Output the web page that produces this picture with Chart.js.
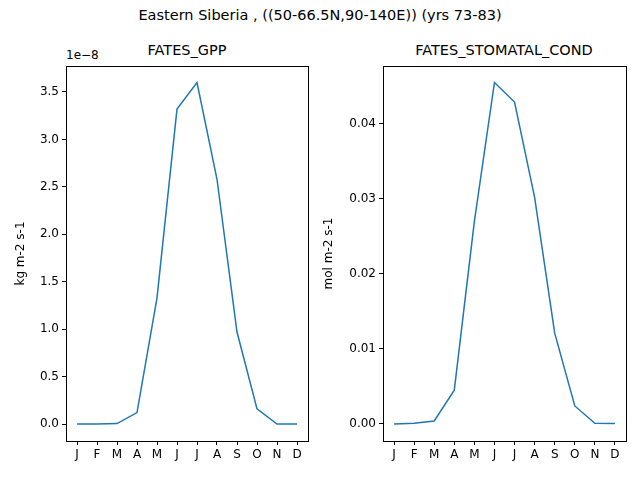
<!DOCTYPE html>
<html><head>
<script src="https://cdn.jsdelivr.net/npm/chart.js@4"></script>
<style>
body{margin:0;width:640px;height:480px;position:relative;background:#fff;font-family:"DejaVu Sans",sans-serif;overflow:hidden}
canvas{position:absolute;top:0}
.t{position:absolute;font-size:14.5px;color:#000;white-space:nowrap;transform:translateX(-50%)}
</style></head>
<body>
<div class="t" style="left:320px;top:7px">Eastern Siberia , ((50-66.5N,90-140E)) (yrs 73-83)</div>
<div class="t" style="left:187px;top:42px">FATES_GPP</div>
<div class="t" style="left:504px;top:42px">FATES_STOMATAL_COND</div>
<div style="position:absolute;left:66px;top:48px;font-size:12px">1e−8</div>
<div style="position:absolute;left:0;top:0;width:320px;height:480px"><canvas id="gpp" width="320" height="480"></canvas></div>
<div style="position:absolute;left:320px;top:0;width:320px;height:480px"><canvas id="cond" width="320" height="480"></canvas></div>
<script>
const months = ['J','F','M','A','M','J','J','A','S','O','N','D'];
const gppValues = [0, 0, 0.005, 0.12, 1.33, 3.32, 3.60, 2.58, 0.97, 0.16, 0.0, 0.0];
const condValues = [0, 0.0001, 0.0004, 0.0045, 0.027, 0.0455, 0.0429, 0.0302, 0.0121, 0.0024, 0.0001, 0.00005];

// full box round the plot area, like matplotlib spines
const frame = {
    id: 'frame',
    afterDraw(chart) {
        const { ctx, chartArea: a } = chart;
        ctx.save();
        ctx.strokeStyle = '#000';
        ctx.lineWidth = 1;
        ctx.strokeRect(Math.round(a.left) + 0.5, Math.round(a.top) + 0.5, Math.round(a.right - a.left), Math.round(a.bottom - a.top));
        ctx.restore();
    }
};

function makeChart(id, values, opts) {
    new Chart(document.getElementById(id).getContext('2d'), {
        type: 'line',
        data: {
            datasets: [{
                data: values.map((v, i) => ({ x: i, y: v })),
                borderColor: '#1f77b4',
                borderWidth: 1.5,
                pointRadius: 0,
                tension: 0
            }]
        },
        plugins: [frame],
        options: {
            responsive: false,
            animation: false,
            layout: { padding: { top: 66, right: opts.right, left: 0, bottom: 0 } },
            plugins: { legend: { display: false }, tooltip: { enabled: false } },
            scales: {
                x: {
                    type: 'linear', min: -0.55, max: 11.55,
                    afterBuildTicks: s => { s.ticks = months.map((m, i) => ({ value: i })); },
                    afterFit: s => { s.height = 39; },
                    ticks: { callback: v => months[v], color: '#000', font: { size: 12, family: 'DejaVu Sans' }, maxRotation: 0, autoSkip: false },
                    grid: { drawOnChartArea: false, tickLength: 4, color: '#000' },
                    border: { color: '#000' }
                },
                y: {
                    min: opts.min, max: opts.max,
                    afterBuildTicks: s => { s.ticks = opts.ticks.map(v => ({ value: v })); },
                    afterFit: s => { s.width = opts.axisWidth; },
                    ticks: { callback: opts.fmt, color: '#000', font: { size: 12, family: 'DejaVu Sans' }, autoSkip: false },
                    grid: { drawOnChartArea: false, tickLength: 4, color: '#000' },
                    border: { color: '#000' },
                    title: { display: true, text: opts.label, color: '#000', font: { size: 12, family: 'DejaVu Sans' }, padding: { top: opts.titlePad, bottom: 2 } }
                }
            }
        }
    });
}

makeChart('gpp', gppValues, {
    min: -0.179, max: 3.774, right: 12, axisWidth: 66, label: 'kg m-2 s-1', titlePad: 14,
    ticks: [0, 0.5, 1, 1.5, 2, 2.5, 3, 3.5], fmt: v => v.toFixed(1)
});
makeChart('cond', condValues, {
    min: -0.00227, max: 0.0477, right: 14, axisWidth: 63, label: 'mol m-2 s-1', titlePad: 2,
    ticks: [0, 0.01, 0.02, 0.03, 0.04], fmt: v => v.toFixed(2)
});
</script>
</body></html>
